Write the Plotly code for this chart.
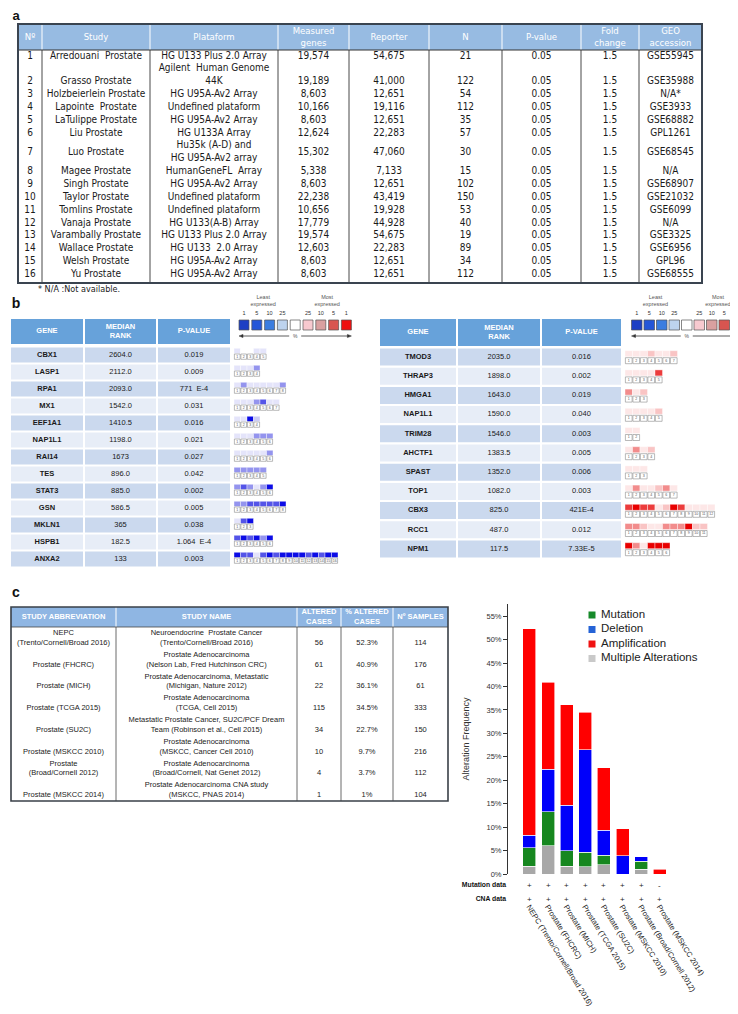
import plotly.graph_objects as go

W, H = 738, 1014
NARROW = "Liberation Sans Narrow, Arial Narrow, DejaVu Sans Condensed, sans-serif"
SANS = "Liberation Sans, Arial, Helvetica, sans-serif"

# ---------------- Panel a data ----------------
a_headers = ["Nº", "Study", "Plataform", "Measured<br>genes", "Reporter", "N", "P-value", "Fold<br>change", "GEO<br>accession"]
a_num = [str(i) for i in range(1, 17)]
a_study = ["Arredouani  Prostate", "Grasso Prostate", "Holzbeierlein Prostate", "Lapointe  Prostate",
           "LaTulippe Prostate", "Liu Prostate", "Luo Prostate", "Magee Prostate", "Singh Prostate",
           "Taylor Prostate", "Tomlins Prostate", "Vanaja Prostate", "Varambally Prostate",
           "Wallace Prostate", "Welsh Prostate", "Yu Prostate"]
a_platform = ["HG U133 Plus 2.0 Array", "Agilent  Human Genome<br>44K", "HG U95A-Av2 Array",
              "Undefined plataform", "HG U95A-Av2 Array", "HG U133A Array",
              "Hu35k (A-D) and<br>HG U95A-Av2 array", "HumanGeneFL  Array", "HG U95A-Av2 Array",
              "Undefined plataform", "Undefined plataform", "HG U133(A-B) Array",
              "HG U133 Plus 2.0 Array", "HG U133  2.0 Array", "HG U95A-Av2 Array", "HG U95A-Av2 Array"]
a_measured = ["19,574", "19,189", "8,603", "10,166", "8,603", "12,624", "15,302", "5,338", "8,603",
              "22,238", "10,656", "17,779", "19,574", "12,603", "8,603", "8,603"]
a_reporter = ["54,675", "41,000", "12,651", "19,116", "12,651", "22,283", "47,060", "7,133", "12,651",
              "43,419", "19,928", "44,928", "54,675", "22,283", "12,651", "12,651"]
a_n = ["21", "122", "54", "112", "35", "57", "30", "15", "102", "150", "53", "40", "19", "89", "34", "112"]
a_pvalue = ["0.05"] * 16
a_fold = ["1.5"] * 16
a_geo = ["GSE55945", "GSE35988", "N/A*", "GSE3933", "GSE68882", "GPL1261", "GSE68545", "N/A",
         "GSE68907", "GSE21032", "GSE6099", "N/A", "GSE3325", "GSE6956", "GPL96", "GSE68555"]
a_footnote = "* N/A :Not available."

# ---------------- Panel b data ----------------
b_headers = ["GENE", "MEDIAN<br>RANK", "P-VALUE"]
bl_genes = ["CBX1", "LASP1", "RPA1", "MX1", "EEF1A1", "NAP1L1", "RAI14", "TES", "STAT3", "GSN", "MKLN1", "HSPB1", "ANXA2"]
bl_rank = ["2604.0", "2112.0", "2093.0", "1542.0", "1410.5", "1198.0", "1673", "896.0", "885.0", "586.5", "365", "182.5", "133"]
bl_pval = ["0.019", "0.009", "771  E-4", "0.031", "0.016", "0.021", "0.027", "0.042", "0.002", "0.005", "0.038", "1.064  E-4", "0.003"]
bl_tiles = [[1, 0, 0, 1, 1], [1, 1, 1, 3], [1, 3, 1, 1, 1, 1, 1, 3], [1, 1, 1, 3, 4, 1, 1], [1, 1, 5, 2],
            [1, 1, 1, 3, 3, 3], [1, 1, 1, 1, 1, 3], [3, 3, 3, 3, 3], [3, 4, 3, 1, 3, 5],
            [3, 3, 4, 4, 4, 4, 4, 5], [1, 4, 5], [4, 5, 4, 5, 3, 5],
            [5, 4, 4, 1, 4, 5, 4, 5, 5, 5, 5, 4, 5, 4, 5, 5]]
br_genes = ["TMOD3", "THRAP3", "HMGA1", "NAP1L1", "TRIM28", "AHCTF1", "SPAST", "TOP1", "CBX3", "RCC1", "NPM1"]
br_rank = ["2035.0", "1898.0", "1643.0", "1590.0", "1546.0", "1383.5", "1352.0", "1082.0", "825.0", "487.0", "117.5"]
br_pval = ["0.016", "0.002", "0.019", "0.040", "0.003", "0.005", "0.006", "0.003", "421E-4", "0.012", "7.33E-5"]
br_tiles = [[1, 1, 1, 2, 1, 1, 2], [1, 1, 1, 1, 4], [3, 1, 2], [1, 1, 1, 1, 2], [1, 1], [1, 3, 1, 2], [1, 1, 1],
            [1, 3, 1, 1, 2, 3, 1], [4, 5, 4, 4, 1, 2, 5, 4, 1, 1, 1, 1], [3, 3, 2, 1, 1, 3, 3, 3, 5, 2, 2],
            [5, 3, 1, 5, 5, 5]]
leg_numbers = ["1", "5", "10", "25", "", "25", "10", "5", "1"]
leg_colors = ["#1d3fc4", "#2456d8", "#3b7de0", "#bdd3ee", "#ffffff", "#f7c9cf", "#d9a0a0", "#d85550", "#ee1010"]
BLUE_LEVELS = ["#ffffff", "#e4e4fa", "#cbcbf5", "#9494ee", "#5454e8", "#0c0ce6"]
RED_LEVELS = ["#ffffff", "#fde7e7", "#f9c4c4", "#f28c8c", "#ec3c3c", "#e80000"]

# ---------------- Panel c data ----------------
c_headers = ["STUDY ABBREVIATION", "STUDY NAME", "ALTERED<br>CASES", "% ALTERED<br>CASES", "Nº SAMPLES"]
c_abbrev = ["NEPC<br>(Trento/Cornell/Broad 2016)", "Prostate (FHCRC)", "Prostate (MICH)", "Prostate (TCGA 2015)",
            "Prostate (SU2C)", "Prostate (MSKCC 2010)", "Prostate<br>(Broad/Cornell 2012)", "Prostate (MSKCC 2014)"]
c_name = ["Neuroendocrine  Prostate Cancer<br>(Trento/Cornell/Broad 2016)",
          "Prostate Adenocarcinoma<br>(Nelson Lab, Fred Hutchinson CRC)",
          "Prostate Adenocarcinoma, Metastatic<br>(Michigan, Nature 2012)",
          "Prostate Adenocarcinoma<br>(TCGA, Cell 2015)",
          "Metastatic Prostate Cancer, SU2C/PCF Dream<br>Team (Robinson et al., Cell 2015)",
          "Prostate Adenocarcinoma<br>(MSKCC, Cancer Cell 2010)",
          "Prostate Adenocarcinoma<br>(Broad/Cornell, Nat Genet 2012)",
          "Prostate Adenocarcinoma CNA study<br>(MSKCC, PNAS 2014)"]
c_altered = ["56", "61", "22", "115", "34", "10", "4", "1"]
c_pct = ["52.3%", "40.9%", "36.1%", "34.5%", "22.7%", "9.7%", "3.7%", "1%"]
c_samples = ["114", "176", "61", "333", "150", "216", "112", "104"]

# bar chart
bar_studies = ["NEPC (Trento/Cornell/Broad 2016)", "Prostate (FHCRC)", "Prostate (MICH)", "Prostate (TCGA 2015)",
               "Prostate (SU2C)", "Prostate (MSKCC 2010)", "Prostate (Broad/Cornell 2012)", "Prostate (MSKCC 2014)"]
multiple = [1.7, 6.0, 1.7, 1.6, 2.0, 0.0, 1.0, 0.0]
mutation = [3.9, 7.3, 3.3, 3.0, 2.0, 0.0, 1.7, 0.0]
deletion = [2.7, 9.0, 9.7, 21.9, 5.3, 3.9, 1.0, 0.0]
amplification = [44.0, 18.6, 21.4, 8.0, 13.4, 5.8, 0.0, 1.0]
mutation_data = ["+", "+", "+", "+", "+", "+", "+", "-"]
cna_data = ["+", "+", "+", "+", "+", "+", "+", "+"]
legend_names = ["Mutation", "Deletion", "Amplification", "Multiple Alterations"]
legend_colors = ["#178a2a", "#2563d6", "#f01212", "#c9c9c9"]
BAR_RED, BAR_BLUE, BAR_GREEN, BAR_GRAY = "#ff0000", "#0000fa", "#16871f", "#a8a8a8"

# ---------------- helpers ----------------
shapes = []
text_groups = {}


def rect(x0, y0, x1, y1, fill="rgba(0,0,0,0)", lc="rgba(0,0,0,0)", lw=0):
    shapes.append(dict(type="rect", xref="x2", yref="y2", x0=x0, y0=y0, x1=x1, y1=y1,
                       fillcolor=fill, line=dict(color=lc, width=lw), layer="below"))


def seg(x0, y0, x1, y1, color, w):
    shapes.append(dict(type="line", xref="x2", yref="y2", x0=x0, y0=y0, x1=x1, y1=y1,
                       line=dict(color=color, width=w), layer="below"))


def tri(xs, ys, color):
    p = "M %f,%f L %f,%f L %f,%f Z" % (xs[0], ys[0], xs[1], ys[1], xs[2], ys[2])
    shapes.append(dict(type="path", xref="x2", yref="y2", path=p, fillcolor=color,
                       line=dict(color=color, width=0.5), layer="below"))


def add_text(x, y, s, size=8.0, color="#222222", family=SANS, pos="middle center"):
    key = (size, color, family, pos)
    g = text_groups.setdefault(key, ([], [], []))
    g[0].append(x)
    g[1].append(y)
    g[2].append(s)


fig = go.Figure()

# ---------------- Panel labels ----------------
add_text(8, 9, "<b>a</b>", 13, "#111", SANS)
add_text(8, 296, "<b>b</b>", 14, "#111", SANS)
add_text(8, 585, "<b>c</b>", 14, "#111", SANS)

# ---------------- Panel a table ----------------
A_HDR = "#97bbe2"
a_cols = [10, 34, 142, 270, 341, 421, 494, 573, 631, 694]
a_top, a_hdr_bot, a_bot = 16, 42, 275
a_line0, a_lh = 48, 12.85
a_bottom_aligned = {1}

rect(a_cols[0], a_top, a_cols[-1], a_hdr_bot, fill=A_HDR)
for x in a_cols[1:-1]:
    seg(x, a_top, x, a_hdr_bot, "#ffffff", 1)
    seg(x, a_hdr_bot, x, a_bot, "#333333", 0.9)
seg(a_cols[0], a_hdr_bot, a_cols[-1], a_hdr_bot, "#333333", 1)
rect(a_cols[0], a_top, a_cols[-1], a_bot, lc="#3a4450", lw=2)
a_cx = [(a_cols[i] + a_cols[i + 1]) / 2 for i in range(len(a_cols) - 1)]
for j, h in enumerate(a_headers):
    add_text(a_cx[j], (a_top + a_hdr_bot) / 2 + 0.5, h, 9.5, "#ffffff", NARROW)

line_idx = 0
for r in range(16):
    nlines = a_platform[r].count("<br>") + 1
    y_first = a_line0 + line_idx * a_lh
    y_mid = y_first + (nlines - 1) * a_lh / 2
    y_val = y_first + (nlines - 1) * a_lh if r in a_bottom_aligned else y_mid
    row_vals = [a_num[r], a_study[r], None, a_measured[r], a_reporter[r], a_n[r], a_pvalue[r], a_fold[r], a_geo[r]]
    for j, v in enumerate(row_vals):
        if v is not None:
            add_text(a_cx[j], y_val, v, 10, "#1a1a1a", NARROW)
    add_text(a_cx[2], y_mid, a_platform[r], 10, "#1a1a1a", NARROW)
    line_idx += nlines
add_text(30, 282, a_footnote, 9, "#222", NARROW, "middle right")

# ---------------- Panel b ----------------
B_HDR = "#67a2da"
B_ROW = ["#cbd9ee", "#e7edf7"]


def legend_b(x0, pitch, sw):
    yt, yb = 312, 322
    for k in range(9):
        xs = x0 + k * pitch
        rect(xs, yt, xs + sw, yb, fill=leg_colors[k], lc="#555555", lw=0.7)
        if leg_numbers[k]:
            add_text(xs + sw / 2, 306, leg_numbers[k], 5.5, "#333", SANS)
    add_text(x0 + 1.5 * pitch + sw / 2, 293, "Least<br>expressed", 5.5, "#555", SANS)
    add_text(x0 + 6.5 * pitch + sw / 2, 293, "Most<br>expressed", 5.5, "#555", SANS)
    xm = x0 + 4 * pitch + sw / 2
    ya = 328
    seg(x0 + 3, ya, xm - 6, ya, "#333", 0.8)
    tri([x0, x0 + 4, x0 + 4], [ya, ya - 1.6, ya + 1.6], "#333")
    xe = x0 + 8 * pitch + sw
    seg(xm + 6, ya, xe - 3, ya, "#333", 0.8)
    tri([xe, xe - 4, xe - 4], [ya, ya - 1.6, ya + 1.6], "#333")
    add_text(xm, ya + 0.5, "%", 5, "#555", SANS)


def gene_panel(cols, hdr_top, hdr_bot, row0, pitch, half, genes, ranks, pvals, tiles, palette,
               tx0, tw, t_off, t_h, b_off, b_h):
    for j in range(3):
        rect(cols[j][0], hdr_top, cols[j][1], hdr_bot, fill=B_HDR)
        add_text((cols[j][0] + cols[j][1]) / 2, (hdr_top + hdr_bot) / 2, "<b>%s</b>" % b_headers[j],
                 7.5, "#ffffff", SANS)
    for i in range(len(genes)):
        c = row0 + pitch * i
        for j in range(3):
            rect(cols[j][0], c - half, cols[j][1], c + half, fill=B_ROW[i % 2])
        vals = ["<b>%s</b>" % genes[i], ranks[i], pvals[i]]
        for j in range(3):
            add_text((cols[j][0] + cols[j][1]) / 2, c, vals[j], 7.5, "#1a1a1a", SANS)
        for k, lev in enumerate(tiles[i]):
            x0 = tx0 + k * tw
            rect(x0, c + t_off, x0 + tw, c + t_off + t_h, fill=palette[lev], lc="#ffffff", lw=0.4)
            rect(x0 + 0.4, c + b_off, x0 + tw - 0.4, c + b_off + b_h, fill="#ffffff", lc="#8a8a8a", lw=0.6)
            add_text(x0 + tw / 2, c + b_off + b_h / 2, str(k + 1), 3.6, "#555", SANS)


gene_panel([(3, 75), (77, 148), (150, 222)], 311, 336, 347, 17.0, 7.5,
           bl_genes, bl_rank, bl_pval, bl_tiles, BLUE_LEVELS, 226, 6.5, -6.7, 5.2, -1.0, 5.3)
gene_panel([(372, 448), (450, 532), (534, 613)], 311, 338, 349, 19.2, 8.5,
           br_genes, br_rank, br_pval, br_tiles, RED_LEVELS, 617, 7.5, -6.3, 6.0, 0.7, 6.0)
legend_b(231, 12.8, 10)
legend_b(623.5, 12.5, 10.5)

# ---------------- Panel c table ----------------
C_HDR = "#8fb6e3"
c_cols = [3, 108, 289, 333, 385, 440]
c_top, c_hdr_bot, c_bot = 599, 619, 793
c_rh = (c_bot - c_hdr_bot) / len(c_abbrev)
rect(c_cols[0], c_top, c_cols[-1], c_hdr_bot, fill=C_HDR)
for x in c_cols[1:-1]:
    seg(x, c_top, x, c_hdr_bot, "#ffffff", 1)
    seg(x, c_hdr_bot, x, c_bot, "#444444", 0.8)
seg(c_cols[0], c_hdr_bot, c_cols[-1], c_hdr_bot, "#444444", 0.8)
rect(c_cols[0], c_top, c_cols[-1], c_bot, lc="#3a4048", lw=1.6)
c_cx = [(c_cols[i] + c_cols[i + 1]) / 2 for i in range(len(c_cols) - 1)]
for j, h in enumerate(c_headers):
    add_text(c_cx[j], (c_top + c_hdr_bot) / 2, "<b>%s</b>" % h, 7.5, "#ffffff", SANS)
for r in range(len(c_abbrev)):
    top = c_hdr_bot + r * c_rh
    ymid = top + 11.0
    y2 = top + 15.9
    vals = [c_abbrev[r], c_name[r], c_altered[r], c_pct[r], c_samples[r]]
    for j, v in enumerate(vals):
        add_text(c_cx[j], ymid if "<br>" in v else y2, v, 7.5, "#222222", SANS)

# ---------------- Panel c bar chart ----------------
for name, vals, color in [("Multiple Alterations", multiple, BAR_GRAY), ("Mutation", mutation, BAR_GREEN),
                          ("Deletion", deletion, BAR_BLUE), ("Amplification", amplification, BAR_RED)]:
    fig.add_trace(go.Bar(x=bar_studies, y=vals, name=name, xaxis="x", yaxis="y",
                         marker=dict(color=color, line=dict(color="#ffffff", width=0.6)),
                         showlegend=False, hoverinfo="skip"))

# custom legend
leg_y = [607 + 14.5 * i for i in range(len(legend_names))]
fig.add_trace(go.Scatter(x=[584] * len(legend_names), y=leg_y, mode="markers", xaxis="x2", yaxis="y2",
                         marker=dict(symbol="square", size=7, color=legend_colors, line=dict(width=0)),
                         showlegend=False, hoverinfo="skip"))
for nm, yy in zip(legend_names, leg_y):
    add_text(593, yy, nm, 11.5, "#222222", SANS, "middle right")

add_text(498, 877, "<b>Mutation data</b>", 6.8, "#111", SANS, "middle left")
add_text(498, 891, "<b>CNA data</b>", 6.8, "#111", SANS, "middle left")

annotations = []
for st, m, c in zip(bar_studies, mutation_data, cna_data):
    annotations.append(dict(x=st, xref="x", y=877, yref="y2", text=m, showarrow=False,
                            font=dict(size=8, color="#222", family=SANS)))
    annotations.append(dict(x=st, xref="x", y=891, yref="y2", text=c, showarrow=False,
                            font=dict(size=8, color="#222", family=SANS)))

# add text traces
for (size, color, family, pos), (xs, ys, ts) in text_groups.items():
    fig.add_trace(go.Scatter(x=xs, y=ys, text=ts, mode="text", textposition=pos, xaxis="x2", yaxis="y2",
                             textfont=dict(size=size, color=color, family=family),
                             showlegend=False, hoverinfo="skip", cliponaxis=False))

fig.update_layout(
    width=W, height=H, autosize=False,
    margin=dict(l=0, r=0, t=0, b=0, autoexpand=False),
    paper_bgcolor="#ffffff", plot_bgcolor="rgba(0,0,0,0)",
    barmode="stack", bargap=0.30,
    shapes=shapes, annotations=annotations,
    xaxis=dict(domain=[500 / W, 663 / W], anchor="y", type="category", range=[-1.15, 7.6], automargin=False,
               showline=False, showgrid=False, zeroline=False, ticks="", tickangle=58,
               ticklabelstandoff=26, tickfont=dict(size=7.6, color="#222", family=SANS)),
    yaxis=dict(domain=[1 - 866 / H, 1 - 596 / H], anchor="x", range=[0, 57.6], dtick=5, ticksuffix="%",
               automargin=False,
               showline=True, linecolor="#333", linewidth=1, ticks="outside", ticklen=4, tickcolor="#333",
               showgrid=False, zeroline=False, tickfont=dict(size=7.5, color="#333", family=SANS),
               title=dict(text="Alteration Frequency", font=dict(size=9, color="#333", family=SANS), standoff=15)),
    xaxis2=dict(domain=[0, 1], anchor="y2", range=[0, W], visible=False, fixedrange=True, automargin=False),
    yaxis2=dict(domain=[0, 1], anchor="x2", range=[H, 0], visible=False, fixedrange=True, automargin=False),
)

fig.write_html("out.html")
